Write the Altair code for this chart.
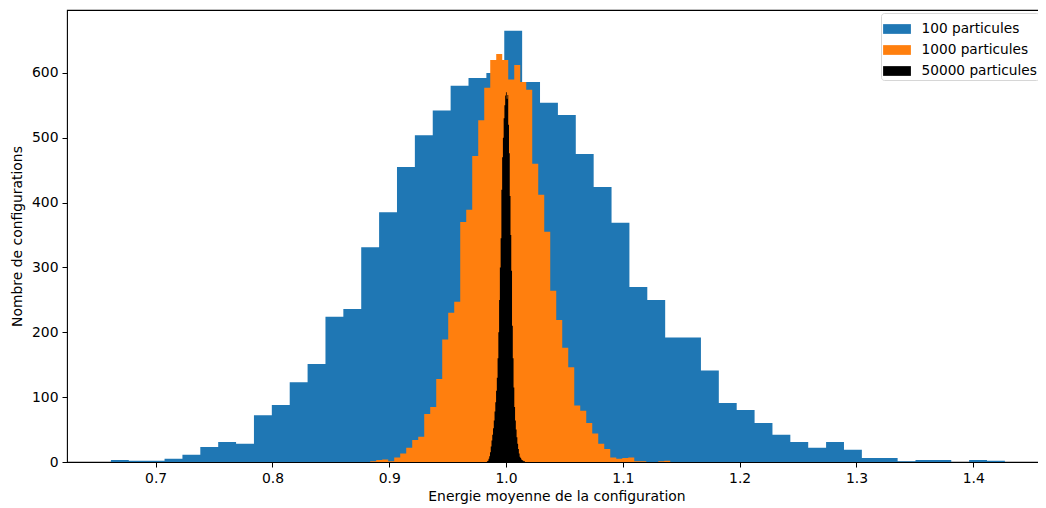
import altair as alt
import numpy as np
import pandas as pd

# ---------------- data ----------------
series_names = ["100 particules", "1000 particules", "50000 particules"]
series_colors = ["#1f77b4", "#ff7f0e", "#000000"]

# energy range covered by each histogram (50 bins each)
blue_range = [0.6617, 1.4271]
orange_range = [0.8837, 1.1406]
black_range = [0.98365, 1.01618]

blue_counts = [3, 2, 2, 5, 11, 23, 31, 28, 72, 88,
               123, 151, 224, 236, 331, 385, 455, 504, 542, 580,
               592, 600, 665, 586, 554, 535, 475, 424, 369, 270,
               250, 192, 192, 141, 91, 80, 60, 42, 31, 22,
               31, 19, 6, 6, 1, 3, 3, 0, 3, 2]

orange_counts = [1, 3, 4, 1, 7, 13, 22, 34, 39, 74,
                 85, 128, 189, 230, 247, 370, 389, 472, 527, 577,
                 620, 629, 620, 590, 612, 586, 574, 460, 412, 355,
                 264, 219, 176, 146, 87, 79, 60, 44, 28, 20,
                 7, 5, 6, 7, 1, 1, 0, 0, 1, 2]

black_counts = [1, 2, 5, 9, 15, 24, 33, 42, 52, 64,
                78, 92, 110, 130, 160, 200, 250, 300, 345, 420,
                470, 500, 530, 550, 565, 570, 560, 566, 520, 476,
                410, 350, 295, 210, 160, 115, 85, 64, 50, 38,
                28, 20, 13, 8, 6, 4, 3, 2, 1, 1]

x_ticks = [0.7, 0.8, 0.9, 1.0, 1.1, 1.2, 1.3, 1.4]
y_ticks = [0, 100, 200, 300, 400, 500, 600]
x_domain = [0.6241, 1.4623]
y_domain = [0, 697]


def hist_frame(name, rng, counts):
    edges = np.linspace(rng[0], rng[1], len(counts) + 1)
    ys = list(counts) + [counts[-1]]
    return pd.DataFrame({"energie": edges, "count": ys, "serie": name})


frames = [
    hist_frame(series_names[0], blue_range, blue_counts),
    hist_frame(series_names[1], orange_range, orange_counts),
    hist_frame(series_names[2], black_range, black_counts),
]

FONT = "DejaVu Sans"
FS = 13.9

x_enc = alt.X(
    "energie:Q",
    scale=alt.Scale(domain=x_domain, nice=False, zero=False),
    axis=alt.Axis(
        title="Energie moyenne de la configuration",
        values=x_ticks,
        format=".1f",
        grid=False,
        domain=False,
        tickSize=5,
        tickWidth=1,
        tickColor="black",
        labelPadding=4,
        titlePadding=5,
        labelFlush=False,
    ),
)
y_enc = alt.Y(
    "count:Q",
    stack=None,
    scale=alt.Scale(domain=y_domain, nice=False),
    axis=alt.Axis(
        title="Nombre de configurations",
        values=y_ticks,
        format="d",
        grid=False,
        domain=False,
        tickSize=5,
        tickWidth=1,
        tickColor="black",
        labelPadding=4,
        titlePadding=7,
    ),
)
color_enc = alt.Color(
    "serie:N",
    scale=alt.Scale(domain=series_names, range=series_colors),
    legend=alt.Legend(
        title=None,
        orient="none",
        legendX=814,
        legendY=3,
        symbolType="M-1,-0.35H1V0.35H-1Z",
        symbolSize=773,
        symbolStrokeWidth=0,
        symbolOpacity=1,
        labelFont=FONT,
        labelFontSize=13.7,
        labelColor="black",
        labelOffset=10.5,
        labelLimit=400,
        padding=2,
        rowPadding=0,
        strokeColor="#d6d6d6",
        fillColor="white",
        cornerRadius=3,
    ),
)

layers = [
    alt.Chart(df).mark_area(interpolate="step-after", opacity=1).encode(
        x=x_enc, y=y_enc, color=color_enc
    )
    for df in frames
]

chart = (
    alt.layer(*layers)
    .properties(
        width=979,
        height=452,
        autosize=alt.AutoSizeParams(type="none"),
        padding={"left": 59, "top": 2, "right": -8, "bottom": 46},
    )
    .configure(font=FONT)
    .configure_view(stroke="black", strokeWidth=1.1)
    .configure_axis(
        labelFont=FONT,
        labelFontSize=FS,
        labelColor="black",
        titleFont=FONT,
        titleFontSize=FS,
        titleColor="black",
        titleFontWeight="normal",
    )
)

chart.save("out.html", embed_options={"renderer": "svg", "actions": False})
